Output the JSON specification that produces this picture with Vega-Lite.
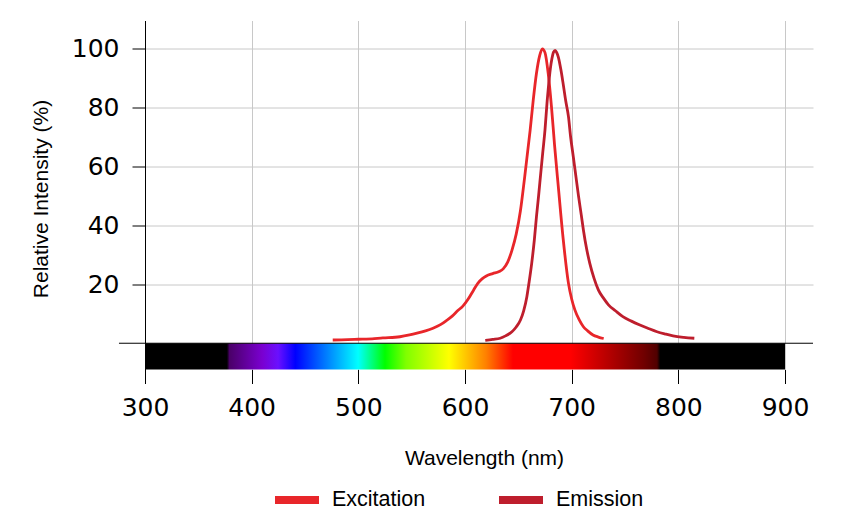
{
  "$schema": "https://vega.github.io/schema/vega-lite/v6.json",
  "width": 668,
  "height": 349,
  "autosize": {"type": "none"},
  "padding": {"left": 145, "top": 20.5, "right": 34, "bottom": 156.5},
  "background": "white",
  "config": {"view": {"stroke": null}},
  "datasets": {
    "spectra": [
      {"wl": 476, "val": 1.1, "series": "Excitation"},
      {"wl": 490, "val": 1.2, "series": "Excitation"},
      {"wl": 500, "val": 1.35, "series": "Excitation"},
      {"wl": 515, "val": 1.6, "series": "Excitation"},
      {"wl": 523, "val": 1.8, "series": "Excitation"},
      {"wl": 539, "val": 2.2, "series": "Excitation"},
      {"wl": 548, "val": 2.8, "series": "Excitation"},
      {"wl": 555, "val": 3.4, "series": "Excitation"},
      {"wl": 563, "val": 4.2, "series": "Excitation"},
      {"wl": 570, "val": 5.1, "series": "Excitation"},
      {"wl": 577, "val": 6.3, "series": "Excitation"},
      {"wl": 583, "val": 7.8, "series": "Excitation"},
      {"wl": 588, "val": 9.2, "series": "Excitation"},
      {"wl": 593, "val": 11, "series": "Excitation"},
      {"wl": 598, "val": 12.6, "series": "Excitation"},
      {"wl": 603, "val": 15, "series": "Excitation"},
      {"wl": 608, "val": 18, "series": "Excitation"},
      {"wl": 612, "val": 20.3, "series": "Excitation"},
      {"wl": 616, "val": 21.8, "series": "Excitation"},
      {"wl": 620, "val": 22.8, "series": "Excitation"},
      {"wl": 626, "val": 23.6, "series": "Excitation"},
      {"wl": 632, "val": 24.3, "series": "Excitation"},
      {"wl": 636, "val": 25.3, "series": "Excitation"},
      {"wl": 640, "val": 27.5, "series": "Excitation"},
      {"wl": 644, "val": 31.5, "series": "Excitation"},
      {"wl": 648, "val": 37, "series": "Excitation"},
      {"wl": 652, "val": 45, "series": "Excitation"},
      {"wl": 656, "val": 56.5, "series": "Excitation"},
      {"wl": 661, "val": 72, "series": "Excitation"},
      {"wl": 664, "val": 82.5, "series": "Excitation"},
      {"wl": 667, "val": 91.5, "series": "Excitation"},
      {"wl": 670, "val": 97.5, "series": "Excitation"},
      {"wl": 672.5, "val": 99.8, "series": "Excitation"},
      {"wl": 675, "val": 98.5, "series": "Excitation"},
      {"wl": 678, "val": 91.5, "series": "Excitation"},
      {"wl": 681, "val": 80.5, "series": "Excitation"},
      {"wl": 684, "val": 67, "series": "Excitation"},
      {"wl": 687.5, "val": 53, "series": "Excitation"},
      {"wl": 692, "val": 35.5, "series": "Excitation"},
      {"wl": 697, "val": 20.3, "series": "Excitation"},
      {"wl": 700, "val": 15, "series": "Excitation"},
      {"wl": 703, "val": 11.3, "series": "Excitation"},
      {"wl": 707, "val": 8, "series": "Excitation"},
      {"wl": 711, "val": 5.6, "series": "Excitation"},
      {"wl": 715, "val": 4.2, "series": "Excitation"},
      {"wl": 720, "val": 2.8, "series": "Excitation"},
      {"wl": 725, "val": 2.1, "series": "Excitation"},
      {"wl": 730, "val": 1.6, "series": "Excitation"},
      {"wl": 619, "val": 1.0, "series": "Emission"},
      {"wl": 626, "val": 1.3, "series": "Emission"},
      {"wl": 633, "val": 1.7, "series": "Emission"},
      {"wl": 638, "val": 2.5, "series": "Emission"},
      {"wl": 644, "val": 3.9, "series": "Emission"},
      {"wl": 648, "val": 5.5, "series": "Emission"},
      {"wl": 652, "val": 7.9, "series": "Emission"},
      {"wl": 655, "val": 11, "series": "Emission"},
      {"wl": 658, "val": 15.8, "series": "Emission"},
      {"wl": 660, "val": 20.5, "series": "Emission"},
      {"wl": 662.5, "val": 27, "series": "Emission"},
      {"wl": 665, "val": 35, "series": "Emission"},
      {"wl": 667, "val": 42.9, "series": "Emission"},
      {"wl": 669, "val": 50, "series": "Emission"},
      {"wl": 671, "val": 57.6, "series": "Emission"},
      {"wl": 673, "val": 65, "series": "Emission"},
      {"wl": 675, "val": 72.3, "series": "Emission"},
      {"wl": 677, "val": 82, "series": "Emission"},
      {"wl": 678.5, "val": 88, "series": "Emission"},
      {"wl": 680, "val": 93, "series": "Emission"},
      {"wl": 681.5, "val": 96.5, "series": "Emission"},
      {"wl": 683, "val": 98.7, "series": "Emission"},
      {"wl": 684.5, "val": 99.3, "series": "Emission"},
      {"wl": 686, "val": 98.5, "series": "Emission"},
      {"wl": 687.5, "val": 97, "series": "Emission"},
      {"wl": 690, "val": 92.5, "series": "Emission"},
      {"wl": 692, "val": 88, "series": "Emission"},
      {"wl": 694.5, "val": 82, "series": "Emission"},
      {"wl": 697, "val": 76.8, "series": "Emission"},
      {"wl": 699, "val": 70, "series": "Emission"},
      {"wl": 701.5, "val": 63.3, "series": "Emission"},
      {"wl": 704, "val": 56.5, "series": "Emission"},
      {"wl": 706.5, "val": 49.7, "series": "Emission"},
      {"wl": 709, "val": 43.5, "series": "Emission"},
      {"wl": 711, "val": 38.4, "series": "Emission"},
      {"wl": 714, "val": 32, "series": "Emission"},
      {"wl": 717, "val": 27.1, "series": "Emission"},
      {"wl": 721, "val": 22, "series": "Emission"},
      {"wl": 725, "val": 18.1, "series": "Emission"},
      {"wl": 730, "val": 15.2, "series": "Emission"},
      {"wl": 734.5, "val": 13, "series": "Emission"},
      {"wl": 741, "val": 11, "series": "Emission"},
      {"wl": 748, "val": 9, "series": "Emission"},
      {"wl": 756, "val": 7.5, "series": "Emission"},
      {"wl": 764, "val": 6.2, "series": "Emission"},
      {"wl": 772, "val": 5, "series": "Emission"},
      {"wl": 780, "val": 3.9, "series": "Emission"},
      {"wl": 788, "val": 3.1, "series": "Emission"},
      {"wl": 795, "val": 2.5, "series": "Emission"},
      {"wl": 805, "val": 2.0, "series": "Emission"},
      {"wl": 815, "val": 1.7, "series": "Emission"}
    ],
    "bar": [{"wl": 300, "wl2": 900, "val": 0, "val2": -8.9}],
    "baseline": [{"wl": 275.6, "wl2": 926.25, "val": 0}]
  },
  "encoding": {
    "x": {
      "field": "wl",
      "type": "quantitative",
      "scale": {"domain": [300, 926.25], "nice": false, "zero": false},
      "axis": {
        "values": [300, 400, 500, 600, 700, 800, 900],
        "title": "Wavelength (nm)",
        "domain": false,
        "tickSize": 14,
        "tickColor": "black",
        "tickWidth": 1,
        "labelFont": "DejaVu Sans",
        "labelFontSize": 25,
        "labelColor": "black",
        "labelPadding": 12,
        "labelFlush": false,
        "grid": true,
        "gridColor": "#c8c8c8",
        "gridWidth": 1,
        "titleFont": "Liberation Sans",
        "titleFontSize": 21,
        "titleFontWeight": "normal",
        "titleColor": "black",
        "titleBaseline": "alphabetic",
        "titleAlign": "center",
        "titleX": 339,
        "titleY": 94.5
      }
    },
    "y": {
      "field": "val",
      "type": "quantitative",
      "scale": {"domain": [-8.9, 109.4], "nice": false, "zero": false},
      "axis": {
        "values": [20, 40, 60, 80, 100],
        "title": "Relative Intensity (%)",
        "domain": true,
        "domainColor": "black",
        "domainWidth": 1,
        "tickSize": 13,
        "tickColor": "black",
        "labelFont": "DejaVu Sans",
        "labelFontSize": 25,
        "labelColor": "black",
        "labelPadding": 13,
        "grid": true,
        "gridColor": "#c8c8c8",
        "gridWidth": 1,
        "titleFont": "Liberation Sans",
        "titleFontSize": 21,
        "titleFontWeight": "normal",
        "titleColor": "black",
        "titleAngle": -90,
        "titleBaseline": "alphabetic",
        "titleAlign": "center",
        "titleX": -97.7,
        "titleY": 178
      }
    }
  },
  "layer": [
    {
      "data": {"name": "bar"},
      "mark": {
        "type": "rect",
        "fill": {
          "gradient": "linear",
          "x1": 0, "y1": 0, "x2": 1, "y2": 0,
          "stops": [
            {"offset": 0, "color": "#000000"},
            {"offset": 0.128, "color": "#000000"},
            {"offset": 0.132, "color": "#4a0068"},
            {"offset": 0.183, "color": "#7a00d0"},
            {"offset": 0.208, "color": "#6a10ff"},
            {"offset": 0.235, "color": "#0000ff"},
            {"offset": 0.333, "color": "#00ffff"},
            {"offset": 0.375, "color": "#00ff00"},
            {"offset": 0.408, "color": "#80ff00"},
            {"offset": 0.475, "color": "#ffff00"},
            {"offset": 0.533, "color": "#ff8000"},
            {"offset": 0.575, "color": "#ff0000"},
            {"offset": 0.665, "color": "#ff0000"},
            {"offset": 0.78, "color": "#700000"},
            {"offset": 0.8, "color": "#500000"},
            {"offset": 0.805, "color": "#000000"},
            {"offset": 1, "color": "#000000"}
          ]
        },
        "stroke": null
      },
      "encoding": {
        "x2": {"field": "wl2"},
        "y2": {"field": "val2"}
      }
    },
    {
      "data": {"name": "baseline"},
      "mark": {"type": "rule", "color": "black", "strokeWidth": 1, "clip": false},
      "encoding": {
        "x2": {"field": "wl2"}
      }
    },
    {
      "data": {"name": "spectra"},
      "mark": {"type": "line", "strokeWidth": 2.8, "interpolate": "monotone"},
      "encoding": {
        "color": {
          "field": "series",
          "type": "nominal",
          "scale": {"domain": ["Excitation", "Emission"], "range": ["#e8262a", "#be1e2d"]},
          "legend": {
            "orient": "none",
            "legendX": 126,
            "legendY": 453.5,
            "direction": "horizontal",
            "title": null,
            "padding": 0,
            "symbolType": "stroke",
            "symbolSize": 1936,
            "symbolStrokeWidth": 8,
            "labelFont": "Liberation Sans",
            "labelFontSize": 21.5,
            "labelColor": "black",
            "labelOffset": 9,
            "columnPadding": 57
          }
        }
      }
    }
  ]
}
